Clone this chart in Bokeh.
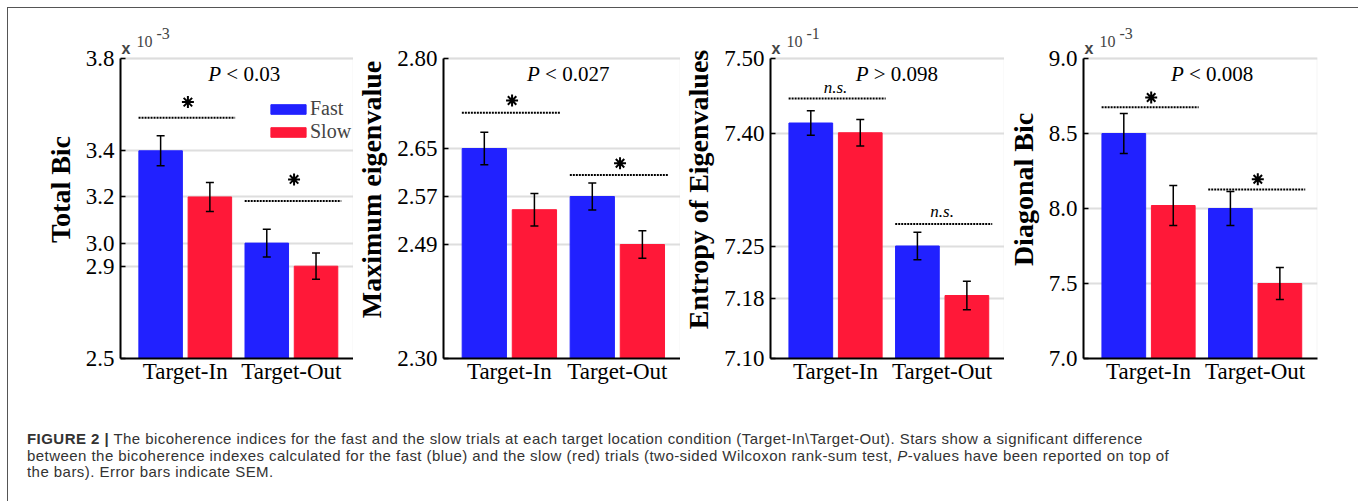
from bokeh.plotting import figure
from bokeh.models import (Range1d, FixedTicker, NumeralTickFormatter, Whisker, TeeHead,
                          ColumnDataSource, Legend, LegendItem, Label, Div, BoxAnnotation)
from bokeh.layouts import row, column
from bokeh.embed import file_html
from bokeh.resources import INLINE

# ---------------- data ----------------
conditions = ["Target-In", "Target-Out"]
series = ["Fast", "Slow"]

total_bic_fast = [3.40, 3.00]
total_bic_slow = [3.20, 2.90]
total_bic_fast_sem = [0.065, 0.060]
total_bic_slow_sem = [0.063, 0.057]
total_bic_ticks = [2.5, 2.9, 3.0, 3.2, 3.4, 3.8]

max_eig_fast = [2.650, 2.570]
max_eig_slow = [2.548, 2.490]
max_eig_fast_sem = [0.027, 0.0225]
max_eig_slow_sem = [0.027, 0.023]
max_eig_ticks = [2.30, 2.49, 2.57, 2.65, 2.80]

entropy_fast = [7.414, 7.250]
entropy_slow = [7.401, 7.184]
entropy_fast_sem = [0.0163, 0.0184]
entropy_slow_sem = [0.0176, 0.0190]
entropy_ticks = [7.10, 7.18, 7.25, 7.40, 7.50]

diag_bic_fast = [8.50, 8.00]
diag_bic_slow = [8.02, 7.50]
diag_bic_fast_sem = [0.134, 0.114]
diag_bic_slow_sem = [0.133, 0.107]
diag_bic_ticks = [7.0, 7.5, 8.0, 8.5, 9.0]

y_titles = ["Total Bic", "Maximum eigenvalue", "Entropy of Eigenvalues", "Diagonal Bic"]
exponents = ["-3", None, "-1", "-3"]
p_relations = ["<", "<", ">", "<"]
p_values = ["0.03", "0.027", "0.098", "0.008"]
sig_marks = [["*", "*"], ["*", "*"], ["n.s.", "n.s."], ["*", "*"]]

# ---------------- style ----------------
BLUE = "#2121FF"
RED = "#FF1838"
SERIF = "Liberation Serif"

panels = [
    dict(fast=total_bic_fast, slow=total_bic_slow, fsem=total_bic_fast_sem, ssem=total_bic_slow_sem,
         ticks=total_bic_ticks, fmt="0.0", sig_y=[3.543, 3.182], mark_y=[3.611, 3.276], p_x=1.217,
         fw=233, lb=113, rb=0),
    dict(fast=max_eig_fast, slow=max_eig_slow, fsem=max_eig_fast_sem, ssem=max_eig_slow_sem,
         ticks=max_eig_ticks, fmt="0.00", sig_y=[2.7095, 2.606], mark_y=[2.730, 2.6255], p_x=1.164,
         fw=237, lb=85, rb=0),
    dict(fast=entropy_fast, slow=entropy_slow, fsem=entropy_fast_sem, ssem=entropy_slow_sem,
         ticks=entropy_ticks, fmt="0.00", sig_y=[7.4467, 7.2795], mark_y=[7.461, 7.2957], p_x=1.189,
         fw=234, lb=86, rb=0),
    dict(fast=diag_bic_fast, slow=diag_bic_slow, fsem=diag_bic_fast_sem, ssem=diag_bic_slow_sem,
         ticks=diag_bic_ticks, fmt="0.0", sig_y=[8.675, 8.127], mark_y=[8.740, 8.195], p_x=1.211,
         fw=234, lb=73, rb=53),
]

AX_H = 300      # height of the value axis in px
EXTRA = 38      # empty room above the axis (for the multiplier text)
OFF = 0.232     # dodge of the two bars in a group
BAR_W = 0.41


def make_panel(i, cfg):
    y0, y1 = min(cfg["ticks"]), max(cfg["ticks"])
    y_top = y1 + (y1 - y0) * EXTRA / AX_H
    p = figure(frame_width=cfg["fw"], frame_height=AX_H + EXTRA,
               min_border_left=cfg["lb"], min_border_right=cfg["rb"],
               min_border_top=13, min_border_bottom=42,
               x_range=Range1d(0.39, 2.585), y_range=Range1d(y0, y_top),
               output_backend="svg", toolbar_location=None,
               background_fill_color="white", border_fill_color=None,
               outline_line_color=None)

    # light box (top/right) of the axes area
    p.add_layout(BoxAnnotation(top=y1, bottom=y0, fill_color=None, line_color="#d9d9d9",
                               line_width=2, level="underlay"))

    xs = [k + 1 for k in range(len(conditions))]
    bars = {}
    for name, vals, sems, col, sign in (("Fast", cfg["fast"], cfg["fsem"], BLUE, -1),
                                        ("Slow", cfg["slow"], cfg["ssem"], RED, 1)):
        src = ColumnDataSource(dict(
            x=[x + sign * OFF for x in xs], top=vals,
            upper=[v + e for v, e in zip(vals, sems)],
            lower=[v - e for v, e in zip(vals, sems)]))
        bars[name] = p.vbar(x="x", top="top", bottom=y0, width=BAR_W, source=src,
                            fill_color=col, line_color=col)
        w = Whisker(source=src, base="x", upper="upper", lower="lower",
                    line_color="black", line_width=1.5, level="annotation",
                    upper_head=TeeHead(size=8, line_width=1.5, line_color="black"),
                    lower_head=TeeHead(size=8, line_width=1.5, line_color="black"))
        p.add_layout(w)

    # significance brackets
    p.segment(x0=[x - 0.44 for x in xs], x1=[x + 0.47 for x in xs],
              y0=cfg["sig_y"], y1=cfg["sig_y"], line_dash="2 1", line_width=2,
              line_color="black")
    for x, ym, mk in zip(xs, cfg["mark_y"], sig_marks[i]):
        if mk == "*":
            p.scatter(x=[x + 0.025], y=[ym], marker="asterisk", size=12,
                      line_width=2, line_color="black")
        else:
            p.add_layout(Label(x=x, y=ym, text=mk, text_align="center",
                               text_baseline="middle", text_font=SERIF,
                               text_font_style="italic", text_font_size="17px",
                               text_color="black"))

    # P value text
    p.add_layout(Label(x=cfg["p_x"], y=y1, y_offset=-15, text="P", text_font=SERIF,
                       text_font_style="italic", text_font_size="21px",
                       text_baseline="middle", text_color="black"))
    p.add_layout(Label(x=cfg["p_x"], y=y1, y_offset=-15, x_offset=18,
                       text=p_relations[i] + " " + p_values[i], text_font=SERIF,
                       text_font_size="21px", text_baseline="middle", text_color="black"))

    # axis multiplier
    if exponents[i]:
        x0 = p.x_range.start
        p.add_layout(Label(x=x0, y=y1, x_offset=1, y_offset=10, text="x",
                           text_font="Liberation Sans", text_font_style="bold",
                           text_font_size="16px", text_baseline="middle"))
        p.add_layout(Label(x=x0, y=y1, x_offset=16, y_offset=17.5, text="10",
                           text_font=SERIF, text_font_size="16px", text_baseline="middle"))
        p.add_layout(Label(x=x0, y=y1, x_offset=36, y_offset=25, text=exponents[i],
                           text_font=SERIF, text_font_size="16px", text_baseline="middle"))

    # axes
    p.yaxis.bounds = (y0, y1)
    p.yaxis.ticker = FixedTicker(ticks=cfg["ticks"])
    p.yaxis.formatter = NumeralTickFormatter(format=cfg["fmt"])
    p.yaxis.axis_label = y_titles[i]
    p.yaxis.axis_label_text_font = SERIF
    p.yaxis.axis_label_text_font_style = "bold"
    p.yaxis.axis_label_text_font_size = "28px"
    p.yaxis.axis_label_text_color = "black"
    p.yaxis.axis_label_standoff = 7
    p.yaxis.major_tick_in = 5
    p.yaxis.major_tick_out = 0
    p.yaxis.minor_tick_line_color = None
    p.yaxis.major_label_standoff = 6

    p.xaxis.ticker = FixedTicker(ticks=xs)
    p.xaxis.major_label_overrides = {x: c for x, c in zip(xs, conditions)}
    p.xaxis.major_tick_line_color = None
    p.xaxis.major_tick_in = 0
    p.xaxis.major_tick_out = 0
    p.xaxis.minor_tick_line_color = None
    p.xaxis.major_label_standoff = 0

    for ax in (p.xaxis, p.yaxis):
        ax.axis_line_width = 2
        ax.axis_line_color = "black"
        ax.major_tick_line_width = 1.5
        ax.major_label_text_font = SERIF
        ax.major_label_text_font_size = "23px"
        ax.major_label_text_color = "black"

    p.xgrid.visible = False
    p.ygrid.ticker = FixedTicker(ticks=cfg["ticks"])
    p.ygrid.grid_line_color = "#dedede"
    p.ygrid.grid_line_width = 2

    if i == 0:
        # one single-item legend per series, so the row spacing can be matched
        for name, vy in ((series[0], 238), (series[1], 215)):
            lg = Legend(items=[LegendItem(label=name, renderers=[bars[name]])],
                        location=(146, vy), padding=0, margin=0, spacing=0,
                        glyph_width=44, glyph_height=12, label_standoff=-2,
                        label_text_font=SERIF, label_text_font_size="20px",
                        background_fill_alpha=0, border_line_color=None)
            p.add_layout(lg)
    return p


figs = [make_panel(i, cfg) for i, cfg in enumerate(panels)]

caption_html = (
    '<div style="padding:31px 0 0 20px; font-family:\'Liberation Sans\', Arial, sans-serif; '
    'font-size:15px; letter-spacing:0.45px; line-height:16.5px; color:#333333; white-space:nowrap;">'
    '<b>FIGURE 2 |</b> The bicoherence indices for the fast and the slow trials at each target '
    'location condition (Target-In\\Target-Out). Stars show a significant difference<br>'
    'between the bicoherence indexes calculated for the fast (blue) and the slow (red) trials '
    '(two-sided Wilcoxon rank-sum test, <i>P</i>-values have been reported on top of<br>'
    'the bars). Error bars indicate SEM.</div>'
)
caption = Div(text=caption_html, width=1348, height=101, margin=0)

layout = column(row(*figs, spacing=0), caption, spacing=0, margin=(7, 0, 0, 7),
                styles={"box-shadow": "inset 1px 1px 0 #555555, inset -1px 0 0 #555555"})

open("out.html", "w").write(file_html(layout, INLINE, title="Figure 2"))
